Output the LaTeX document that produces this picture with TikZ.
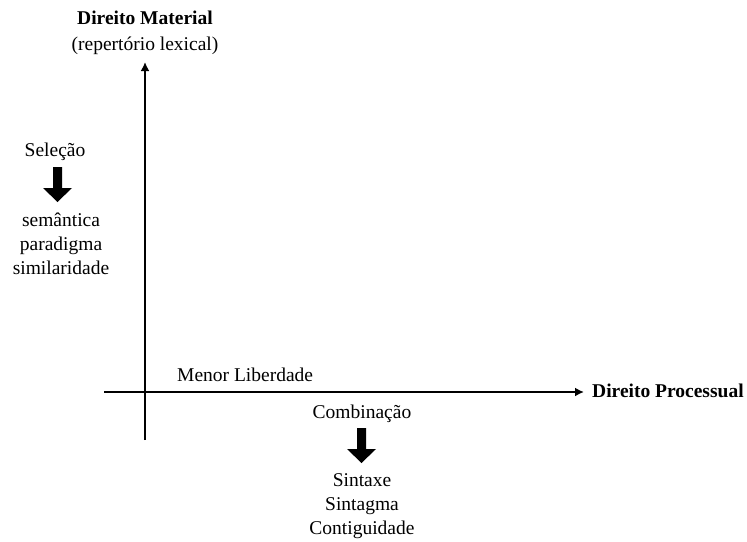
\documentclass[tikz,border=0pt]{standalone}
\usepackage{fontspec}
\setmainfont{Liberation Serif}
\usetikzlibrary{arrows.meta}
\begin{document}
\begin{tikzpicture}[x=1pt,y=-1pt,
  lbl/.style={inner sep=0pt, text height=13pt, text depth=4pt, font=\fontsize{19.5}{22}\selectfont},
  bold/.style={font=\fontsize{19.5}{22}\selectfont\bfseries},
  axis/.style={line width=1.8pt, -{Latex[length=9pt,width=9pt]}},
  blockarrow/.style={fill=black, draw=none}]
\useasboundingbox (0,0) rectangle (747,541);
% axes
\coordinate (xs) at (104,392);
\coordinate (xe) at (584,392);
\coordinate (ys) at (145,440);
\coordinate (ye) at (145,62);
\draw[axis] (xs) -- (xe);
\draw[axis] (ys) -- (ye);
% axis labels
\node[lbl, bold] (mat) at (145,20) {Direito Material};
\node[lbl] (rep) at (145,46) {(repertório lexical)};
\node[lbl, bold, anchor=west] (proc) at (592,393) {Direito Processual};
\node[lbl, anchor=west] (menor) at (177,377) {Menor Liberdade};
% selection column
\node[lbl] (sel) at (55,152) {Seleção};
\fill[blockarrow] (53,167) -- (62,167) -- (62,188) -- (72,188) -- (57.5,202) -- (43,188) -- (53,188) -- cycle;
\node[lbl] (sem) at (61,222) {semântica};
\node[lbl] (par) at (61,246) {paradigma};
\node[lbl] (sim) at (61,270) {similaridade};
% combination column
\node[lbl] (comb) at (362,414) {Combinação};
\fill[blockarrow] (357,428) -- (366,428) -- (366,449) -- (376,449) -- (361.5,463) -- (347,449) -- (357,449) -- cycle;
\node[lbl] (sint) at (362,482) {Sintaxe};
\node[lbl] (stg) at (362,506) {Sintagma};
\node[lbl] (cont) at (362,530) {Contiguidade};
\end{tikzpicture}
\end{document}
